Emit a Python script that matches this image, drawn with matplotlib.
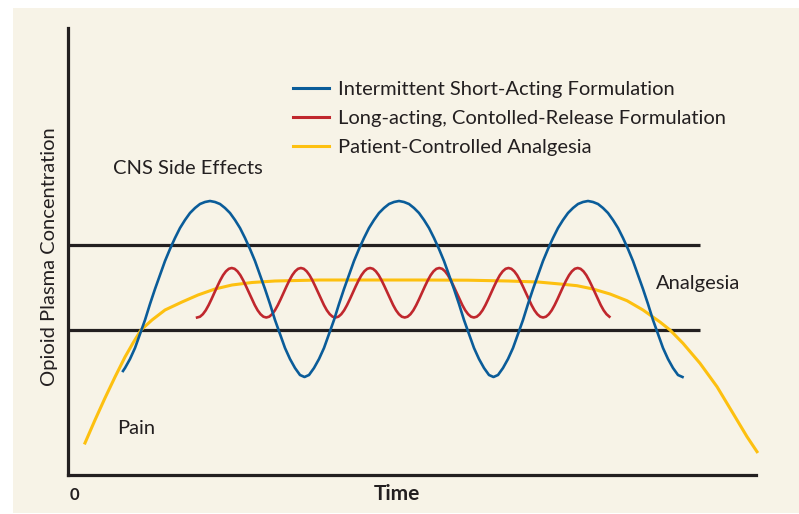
import numpy as np
import matplotlib.pyplot as plt
from matplotlib.lines import Line2D
from matplotlib.patches import Rectangle

# units: arbitrary time (x) and concentration (y)
# thresholds
pain_level = 145
side_effect_level = 230
threshold_end = 632

# Intermittent short-acting formulation
short_x = [55, 57, 62, 67, 72, 77, 82, 87, 92, 97, 102, 107, 112, 117, 122, 127, 132, 137, 142,
           147, 152, 157, 162, 167, 172, 177, 182, 187, 192, 197, 202, 207, 212, 217, 222, 227, 232, 236.5,
           241, 246, 251, 256, 261, 266, 271, 276, 281, 286, 291, 296, 301, 306, 311, 316, 321, 326, 331,
           336, 341, 346, 351, 356, 361, 366, 371, 376, 381, 386, 391, 396, 401, 406, 411, 416, 421, 425.5,
           430, 435, 440, 445, 450, 455, 460, 465, 470, 475, 480, 485, 490, 495, 500, 505, 510, 515, 520,
           525, 530, 535, 540, 545, 550, 555, 560, 565, 570, 575, 580, 585, 590, 595, 600, 605, 610, 614.5]
short_y = [104, 107, 116, 127, 141, 155, 171, 186, 200, 214, 226, 237, 247, 255, 262, 267, 271, 273, 274,
           273, 271, 267, 262, 255, 247, 237, 226, 214, 200, 186, 171, 155, 141, 127, 116, 107, 100, 98,
           100, 107, 116, 127, 141, 155, 171, 186, 200, 214, 226, 237, 247, 255, 262, 267, 271, 273, 274,
           273, 271, 267, 262, 255, 247, 237, 226, 214, 200, 186, 171, 155, 141, 127, 116, 107, 100, 98,
           100, 107, 116, 127, 141, 155, 171, 186, 200, 214, 226, 237, 247, 255, 262, 267, 271, 273, 274,
           273, 271, 267, 262, 255, 247, 237, 226, 214, 200, 186, 171, 155, 141, 127, 116, 107, 100, 98]

# Long-acting, controlled-release formulation (evenly sampled in time)
long_start, long_end = 129.1, 541.4
long_y = [157.5, 158.3, 160.8, 164.7, 169.9, 175.9, 182.3, 188.6, 194.6, 199.8, 203.7, 206.2, 207,
          206.2, 203.7, 199.8, 194.6, 188.6, 182.3, 175.9, 169.9, 164.7, 160.8, 158.3, 157.5,
          158.3, 160.8, 164.7, 169.9, 175.9, 182.3, 188.6, 194.6, 199.8, 203.7, 206.2, 207,
          206.2, 203.7, 199.8, 194.6, 188.6, 182.3, 175.9, 169.9, 164.7, 160.8, 158.3, 157.5,
          158.3, 160.8, 164.7, 169.9, 175.9, 182.3, 188.6, 194.6, 199.8, 203.7, 206.2, 207,
          206.2, 203.7, 199.8, 194.6, 188.6, 182.3, 175.9, 169.9, 164.7, 160.8, 158.3, 157.5,
          158.3, 160.8, 164.7, 169.9, 175.9, 182.3, 188.6, 194.6, 199.8, 203.7, 206.2, 207,
          206.2, 203.7, 199.8, 194.6, 188.6, 182.3, 175.9, 169.9, 164.7, 160.8, 158.3, 157.5,
          158.3, 160.8, 164.7, 169.9, 175.9, 182.3, 188.6, 194.6, 199.8, 203.7, 206.2, 207,
          206.2, 203.7, 199.8, 194.6, 188.6, 182.3, 175.9, 169.9, 164.7, 160.8, 158.3, 157.5,
          158.3, 160.8, 164.7, 169.9, 175.9, 182.3, 188.6, 194.6, 199.8, 203.7, 206.2, 207,
          206.2, 203.7, 199.8, 194.6, 188.6, 182.3, 175.9, 169.9, 164.7, 160.8, 158.3]

# Patient-controlled analgesia
pca_x = [17, 27, 37, 47, 57, 65, 73, 84, 97, 114, 130, 147, 164, 184, 207,
         252, 300, 350, 400, 440, 470, 492, 509, 525, 542, 559, 575, 592,
         602, 615, 632, 649, 665, 679, 689]
pca_y = [32, 55, 77, 98, 118, 132, 145, 155, 165, 173, 180, 186, 190, 192.5,
         194, 195, 195, 195, 194.8, 194, 193, 191, 189.3, 186, 181, 174.3,
         165, 153, 145, 131.7, 111.7, 88.3, 61.7, 38.3, 23.3]

labels = ['Intermittent Short-Acting Formulation',
          'Long-acting, Contolled-Release Formulation',
          'Patient-Controlled Analgesia']

blue = '#0a5c99'
red = '#c0272d'
yellow = '#fdc010'
ink = '#231f20'
cream = '#f7f3e7'

plt.rcParams['font.family'] = ['Lato', 'DejaVu Sans']
fs = 14.5

fig = plt.figure(figsize=(7.99, 5.14), dpi=100)
fig.patch.set_facecolor('white')
fig.patches.append(Rectangle((13 / 799, 1 / 514), 786 / 799, 505 / 514,
                             transform=fig.transFigure, facecolor=cream,
                             edgecolor='none', zorder=-10))

ax = fig.add_axes([68 / 799, 39 / 514, 688 / 799, 447 / 514])
ax.set_facecolor('none')
ax.set_xlim(0, 688)
ax.set_ylim(0, 447)

for s in ['top', 'right']:
    ax.spines[s].set_visible(False)
for s in ['left', 'bottom']:
    ax.spines[s].set_linewidth(2.3)
    ax.spines[s].set_color(ink)
ax.set_xticks([])
ax.set_yticks([])

ax.plot([0, threshold_end], [side_effect_level] * 2, color=ink, lw=2.3,
        solid_capstyle='butt')
ax.plot([0, threshold_end], [pain_level] * 2, color=ink, lw=2.3,
        solid_capstyle='butt')

long_x = np.linspace(long_start, long_end, len(long_y))
ax.plot(pca_x, pca_y, color=yellow, lw=2.2, clip_on=False)
ax.plot(long_x, long_y, color=red, lw=1.9)
ax.plot(short_x, short_y, color=blue, lw=1.9)

handles = [Line2D([], [], color=blue, lw=2.2),
           Line2D([], [], color=red, lw=2.2),
           Line2D([], [], color=yellow, lw=2.2)]
leg = ax.legend(handles, labels, loc='upper left',
                bbox_to_anchor=((293 - 68) / 688, (475 - 81) / 447),
                frameon=False, fontsize=fs, handlelength=1.8,
                handletextpad=0.45, labelspacing=0.58, borderpad=0,
                borderaxespad=0)
for t in leg.get_texts():
    t.set_color(ink)

ax.text(45, 306, 'CNS Side Effects', fontsize=fs, color=ink, va='center')
ax.text(588, 192, 'Analgesia', fontsize=fs, color=ink, va='center')
ax.text(49, 46, 'Pain', fontsize=fs, color=ink, va='center')
ax.text(6, -20, '0', fontsize=12, color=ink, va='center', ha='center',
        fontweight='bold', clip_on=False)

ax.set_ylabel('Opioid Plasma Concentration', fontsize=fs, color=ink)
ax.yaxis.set_label_coords(-0.015, 0.489)
ax.set_xlabel('Time', fontsize=15, color=ink, fontweight='bold')
ax.xaxis.set_label_coords(0.478, -0.02)

fig.savefig('out.png', dpi=100, facecolor='white')
